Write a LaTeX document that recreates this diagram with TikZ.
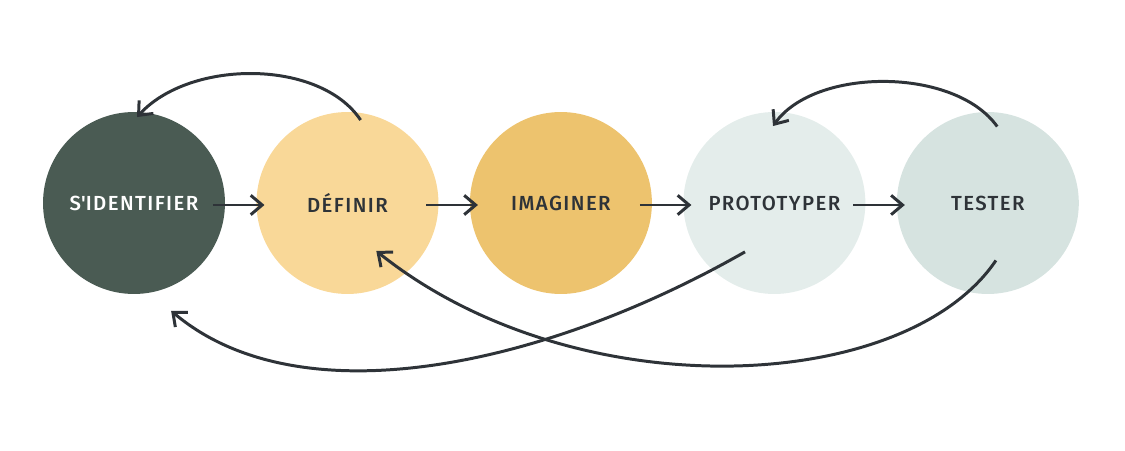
\documentclass[tikz,border=0pt]{standalone}
\usepackage{fontspec}
\newfontfamily\stepfont{Fira Sans Medium}[LetterSpace=7]
\usetikzlibrary{arrows.meta, positioning, calc}
\definecolor{darkgreen}{RGB}{74,91,83}
\definecolor{paleyellow}{RGB}{249,216,152}
\definecolor{goldyellow}{RGB}{237,195,110}
\definecolor{palegrey}{RGB}{228,237,235}
\definecolor{palesage}{RGB}{214,227,224}
\definecolor{inkgrey}{RGB}{46,51,56}

\begin{document}
\begin{tikzpicture}[x=0.02cm, y=0.02cm,
    phase/.style={circle, minimum size=3.64cm, inner sep=0pt, outer sep=0pt, text=inkgrey,
                  font=\stepfont\fontsize{11.6}{13}\selectfont},
    flow/.style={-{Straight Barb[length=6.5pt,width=11pt]}, line width=1.7pt, draw=inkgrey}]
    \useasboundingbox (0,0) rectangle (1125,450);

    % Phases
    \node[phase, fill=darkgreen, text=white] (ident) at (134,247) {S\textquotesingle IDENTIFIER};
    \node[phase, fill=paleyellow, right=0.63cm of ident] (defin) {DÉFINIR};
    \node[phase, fill=goldyellow, right=0.63cm of defin] (imag) {IMAGINER};
    \node[phase, fill=palegrey, right=0.63cm of imag] (proto) {PROTOTYPER};
    \node[phase, fill=palesage, right=0.63cm of proto] (test) {TESTER};

    % Forward arrows
    \draw[flow] ($(ident.east)+(-12,-2)$) -- ($(defin.west)+(8,-2)$);
    \draw[flow] ($(defin.east)+(-12,-2)$) -- ($(imag.west)+(8,-2)$);
    \draw[flow] ($(imag.east)+(-12,-2)$) -- ($(proto.west)+(8,-2)$);
    \draw[flow] ($(proto.east)+(-12,-2)$) -- ($(test.west)+(8,-2)$);

    % Loops back over the top
    \draw[flow] ($(defin)+(81:84)$) .. controls (320,391) and (190,391) .. ($(ident)+(88:86)$);
    \draw[flow] ($(test)+(83:77)$) .. controls (955,383) and (815,383) .. ($(proto)+(91:77)$);

    % Loops back underneath
    \draw[flow] ($(proto)+(239:57)$) .. controls (545,84) and (300,30) .. ($(ident)+(289:114)$);
    \draw[flow] ($(test)+(278:58)$) .. controls (905,55) and (575,40) .. ($(defin)+(301:56)$);
\end{tikzpicture}
\end{document}
